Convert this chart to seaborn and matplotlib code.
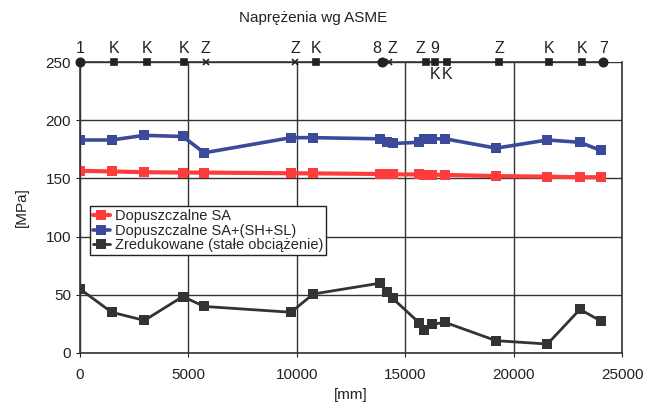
import matplotlib
matplotlib.use("Agg")
import matplotlib.pyplot as plt
import seaborn as sns
import pandas as pd

# Dane
x_mm = [0, 1460, 2970, 4740, 5730, 9730, 10760, 13840, 14150, 14420,
        15640, 15870, 16220, 16840, 19190, 21560, 23060, 24020]
sa = [156.5, 156, 155.3, 155, 155, 154.4, 154.3, 153.8, 153.6, 153.5,
      153.4, 153.3, 153.2, 153, 152, 151.5, 151, 151]
sa_sh_sl = [183, 183, 187, 186, 172, 185, 185, 184, 181, 180,
            181, 184, 184, 184, 176, 183, 181, 174]
zred = [55, 35, 28, 48.5, 40, 35, 50.7, 60, 52.7, 47,
        26, 20, 24.6, 26.3, 10.6, 7.7, 37.5, 27.5]

# Rząd punktów podparcia na górze wykresu
top_x = [0, 1580, 3100, 4800, 5800, 9920, 10890, 13910, 14270,
         15960, 16370, 16940, 19330, 21650, 23140, 24140]
top_mark = ["o", "s", "s", "s", "x", "x", "s", "o", "x",
            "s", "s", "s", "s", "s", "s", "o"]
top_above = ["1", "K", "K", "K", "Z", "Z", "K", "8", "Z",
             "Z", "9", "", "Z", "K", "K", "7"]
top_below = ["", "", "", "", "", "", "", "", "",
             "", "K", "K", "", "", "", ""]
top_level = 250

labels = ["Dopuszczalne SA", "Dopuszczalne SA+(SH+SL)",
          "Zredukowane (stałe obciążenie)"]
colors = ["#ff3c3c", "#3b4a9a", "#333333"]

sns.set_style("white")
plt.rcParams["font.family"] = ["Liberation Sans", "DejaVu Sans"]

fig = plt.figure(figsize=(6.58, 4.08), dpi=100)
ax = fig.add_axes([80 / 658, 1 - 353 / 408, 542 / 658, 291 / 408])

df = pd.DataFrame({"x": x_mm * 3,
                   "y": sa + sa_sh_sl + zred,
                   "seria": [labels[0]] * len(x_mm) + [labels[1]] * len(x_mm)
                   + [labels[2]] * len(x_mm)})

widths = [3.0, 2.6, 2.0]
for lab, col, lw in zip(labels, colors, widths):
    sub = df[df["seria"] == lab]
    sns.lineplot(data=sub, x="x", y="y", ax=ax, color=col, lw=lw,
                 marker="s", markersize=7, markeredgewidth=0,
                 label=lab, sort=False)

# linia z podporami
ax.plot([top_x[0], top_x[-1]], [top_level, top_level], color="#333333",
        lw=1.2, clip_on=False, zorder=3)
# małe przesunięcia etykiet tam, gdzie punkty leżą blisko siebie
label_dx = {7: -220, 8: 120, 9: -250}
for i, (xv, m, a, b) in enumerate(zip(top_x, top_mark, top_above, top_below)):
    size = {"o": 6, "s": 4.5, "x": 4}[m]
    ax.plot(xv, top_level, marker=m, color="#222222",
            markersize=size, mew=1.2, clip_on=False, zorder=4)
    dx = label_dx.get(i, 0)
    if a:
        ax.text(xv + dx, top_level + 5, a, ha="center", va="bottom",
                fontsize=11.5, color="#222222")
    if b:
        ax.text(xv, top_level - 4, b, ha="center", va="top", fontsize=11.5,
                color="#222222")

ax.set_xlim(0, 25000)
ax.set_ylim(0, 250)
ax.set_xticks(range(0, 25001, 5000))
ax.set_yticks(range(0, 251, 50))
ax.grid(True, color="#333333", lw=1.0)
ax.set_axisbelow(True)
for side in ["left", "bottom", "right"]:
    ax.spines[side].set_color("#333333")
    ax.spines[side].set_linewidth(1.2)
ax.spines["top"].set_visible(False)
ax.tick_params(axis="both", labelsize=11, colors="#222222", length=3,
               direction="out", left=True, bottom=True)
ax.tick_params(axis="x", pad=8)

ax.set_xlabel("[mm]", fontsize=11, color="#222222", labelpad=4)
ax.set_ylabel("[MPa]", fontsize=11, color="#222222", labelpad=12)
fig.text(313 / 658, 1 - 18 / 408, "Naprężenia wg ASME", ha="center",
         va="center", fontsize=11, color="#222222")

leg = ax.legend(loc="upper left", bbox_to_anchor=(0.018, 0.505),
                fontsize=10.5, frameon=True, fancybox=False, borderpad=0.2,
                handlelength=1.2, handletextpad=0.3, labelspacing=0.05,
                borderaxespad=0)
leg.get_frame().set_edgecolor("#222222")
leg.get_frame().set_linewidth(1.0)
leg.get_frame().set_alpha(1)

fig.savefig("out.png", dpi=100)
